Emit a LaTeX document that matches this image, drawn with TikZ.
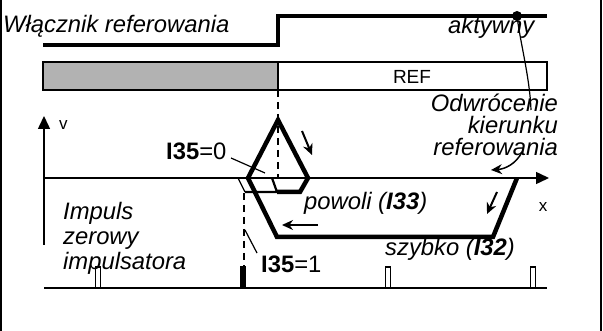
\documentclass[tikz,border=0pt]{standalone}
\usepackage{fontspec}
\setmainfont{Liberation Sans}
\usetikzlibrary{arrows.meta,positioning}
\definecolor{refgrey}{HTML}{B2B2B2}
\tikzset{
  lbl/.style={inner sep=0pt, font=\fontsize{23.8}{26}\selectfont\itshape},
  uplbl/.style={inner sep=0pt, font=\fontsize{23.8}{26}\selectfont},
  axislbl/.style={inner sep=0pt, font=\fontsize{17}{19}\selectfont},
  signalline/.style={line width=4.5pt},
  fastline/.style={line width=4.5pt, line join=miter},
  medline/.style={line width=2.2pt},
  thinline/.style={line width=1.2pt},
  axisline/.style={line width=1.5pt, -{Triangle[length=13pt, width=12pt]}},
  moveedge/.style={line width=2pt, -{Stealth[length=11pt, width=10pt]}},
  dashline/.style={line width=1.5pt, dash pattern=on 7pt off 5pt},
  dotnode/.style={circle, fill=black, inner sep=0pt, minimum size=10pt},
}

\begin{document}
\begin{tikzpicture}[x=1pt, y=-1pt]
  \useasboundingbox (0,0) rectangle (603,331);
  \draw[line width=2pt] (1,0) -- (1,331);
  \draw[line width=2pt] (601,0) -- (601,331);

  % sygnal wlacznika
  \coordinate (s0) at (43,45);
  \coordinate (s1) at (278,45);
  \coordinate (s2) at (278,16);
  \coordinate (s3) at (547,16);
  \draw[signalline] (s0) -- (s1) -- (s2) -- (s3);
  \node[lbl, anchor=base west] (sw) at (3,33) {Włącznik referowania};
  \node[lbl, anchor=base west] (akt) at (448,34) {aktywny};
  \node[dotnode] (dot) at (517,16) {};

  % pasek REF
  \draw[line width=1.5pt, fill=refgrey] (43,62) rectangle (278,90);
  \draw[line width=1.5pt] (278,62) rectangle (547,90);
  \node[inner sep=0pt, font=\fontsize{19}{21}\selectfont] (ref) at (412,77) {REF};

  % osie
  \coordinate (o) at (44,178);
  \coordinate (vbot) at (44,245);
  \coordinate (vtop) at (44,116);
  \coordinate (xend) at (549,178);
  \draw[axisline] (vbot) -- (vtop);
  \draw[axisline] (o) -- (xend);
  \node[axislbl, anchor=base west] (v) at (59,130) {v};
  \node[axislbl, anchor=base] (x) at (543,212) {x};

  % trajektoria
  \coordinate (k1) at (248,178);
  \coordinate (k2) at (278,120);
  \coordinate (k3) at (308,178);
  \coordinate (k4) at (300,192);
  \coordinate (k5) at (277,192);
  \coordinate (k6) at (272,178);
  \coordinate (k7) at (245,192);
  \coordinate (k8) at (238,178);
  \coordinate (t2) at (277,237);
  \coordinate (t3) at (493,237);
  \coordinate (t4) at (517,178);
  \coordinate (d1) at (278,90);
  \coordinate (d2) at (278,178);
  \draw[dashline] (d1) -- (d2);
  \draw[fastline] (k1) -- (k2) -- (k3) -- (k4) -- (k5);
  \draw[medline] (k6) -- (k5) -- (k7);
  \draw[thinline] (k7) -- (k8);
  \draw[fastline] (k1) -- (t2) -- (t3) -- (t4);

  % strzalki ruchu
  \coordinate (a1s) at (302,131);
  \coordinate (a1e) at (312,155);
  \coordinate (a2s) at (318,225);
  \coordinate (a2e) at (282,225);
  \coordinate (a3s) at (497,192);
  \coordinate (a3e) at (487,214);
  \draw[moveedge] (a1s) -- (a1e);
  \draw[moveedge] (a2s) -- (a2e);
  \draw[moveedge] (a3s) -- (a3e);

  % odwrocenie
  \node[lbl, anchor=base east] (odw) at (558,112) {Odwrócenie};
  \node[lbl, anchor=base east] (kier) at (558,134) {kierunku};
  \node[lbl, anchor=base east] (refw) at (558,156) {referowania};
  \coordinate (c1) at (531,110);
  \draw[thinline] (dot) .. controls (521,45) and (530,80) .. (c1);
  \coordinate (c2s) at (522,152);
  \coordinate (c2e) at (491,170);
  \draw[moveedge, line width=1.5pt] (c2s) .. controls (516,164) and (505,169) .. (c2e);

  % etykiety
  \node[uplbl, anchor=base west] (i350) at (166,160) {\textbf{I35}=0};
  \coordinate (l0s) at (231,158);
  \coordinate (l0e) at (265,173);
  \draw[thinline] (l0s) -- (l0e);
  \node[lbl, anchor=base west] (pow) at (304,210) {powoli (\textbf{I33})};
  \node[lbl, anchor=base west] (szy) at (385,256) {szybko (\textbf{I32})};
  \node[uplbl, anchor=base west] (i351) at (261,273) {\textbf{I35}=1};
  \coordinate (l1s) at (245,230);
  \coordinate (l1e) at (257,253);
  \draw[thinline] (l1s) -- (l1e);

  % impulsy zerowe
  \node[lbl, anchor=base west] (imp1) at (63,220) {Impuls};
  \node[lbl, anchor=base west] (imp2) at (63,245) {zerowy};
  \node[lbl, anchor=base west] (imp3) at (63,270) {impulsatora};
  \coordinate (p0) at (44,288);
  \coordinate (p1) at (547,288);
  \draw[line width=1.5pt] (p0) -- (p1);
  \foreach \px in {98,388,533}
    \draw[line width=1.3pt] (\px-2.5,288) rectangle (\px+2.5,267);
  \fill (240,288) rectangle (246,266);
  \coordinate (d3) at (244,193);
  \coordinate (d4) at (244,266);
  \draw[dashline] (d3) -- (d4);
\end{tikzpicture}
\end{document}
